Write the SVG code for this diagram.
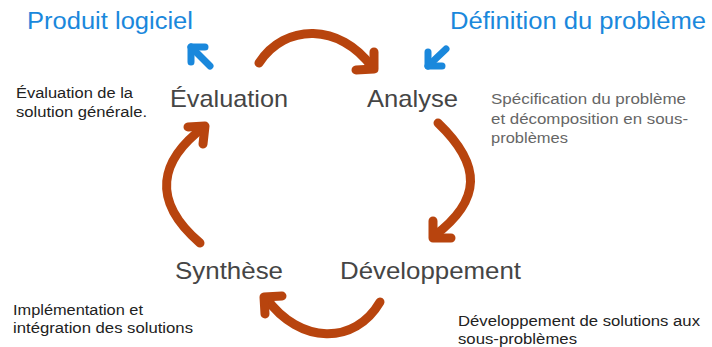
<svg xmlns="http://www.w3.org/2000/svg" width="712" height="347" viewBox="0 0 712 347">
<style>
.title{font-family:"Liberation Sans",Arial,sans-serif;font-size:23px;fill:#1a88dc}
.node{font-family:"Liberation Sans",Arial,sans-serif;font-size:24px;fill:#454545}
.note{font-family:"Liberation Sans",Arial,sans-serif;font-size:15.5px;fill:#222}
.note2{font-family:"Liberation Sans",Arial,sans-serif;font-size:15.5px;fill:#666}
.arc{fill:none;stroke:#b8440e;stroke-width:9;stroke-linecap:round;stroke-linejoin:round}
.blue{fill:none;stroke:#1a88dc;stroke-width:7;stroke-linecap:round;stroke-linejoin:round}
</style>
<rect width="712" height="347" fill="#fff"/>
<g id="titles">
<text class="title" x="27" y="29" textLength="166" lengthAdjust="spacingAndGlyphs">Produit logiciel</text>
<text class="title" x="450" y="29" textLength="256" lengthAdjust="spacingAndGlyphs">Définition du problème</text>
</g>
<g id="evaluation">
<text class="node" x="170" y="107" textLength="118" lengthAdjust="spacingAndGlyphs">Évaluation</text>
<text class="note" x="16" y="98" textLength="117" lengthAdjust="spacingAndGlyphs">Évaluation de la</text>
<text class="note" x="16" y="117" textLength="131" lengthAdjust="spacingAndGlyphs">solution générale.</text>
</g>
<g id="analyse">
<text class="node" x="367" y="107" textLength="91" lengthAdjust="spacingAndGlyphs">Analyse</text>
<text class="note2" x="491" y="104" textLength="195" lengthAdjust="spacingAndGlyphs">Spécification du problème</text>
<text class="note2" x="491" y="124" textLength="197" lengthAdjust="spacingAndGlyphs">et décomposition en sous-</text>
<text class="note2" x="491" y="143" textLength="77" lengthAdjust="spacingAndGlyphs">problèmes</text>
</g>
<g id="developpement">
<text class="node" x="340" y="279" textLength="181" lengthAdjust="spacingAndGlyphs">Développement</text>
<text class="note" x="458" y="326" textLength="242" lengthAdjust="spacingAndGlyphs">Développement de solutions aux</text>
<text class="note" x="458" y="344" textLength="119" lengthAdjust="spacingAndGlyphs">sous-problèmes</text>
</g>
<g id="synthese">
<text class="node" x="175" y="279" textLength="108" lengthAdjust="spacingAndGlyphs">Synthèse</text>
<text class="note" x="13" y="315" textLength="130" lengthAdjust="spacingAndGlyphs">Implémentation et</text>
<text class="note" x="13" y="333" textLength="180" lengthAdjust="spacingAndGlyphs">intégration des solutions</text>
</g>
<g id="connectors">
<path class="arc" d="M259,63 C285,23 340,23 372,67"/>
<path class="arc" d="M356,70 L374,69 L374,52"/>
<path class="arc" d="M438,123 C482,165 482,200 434,236"/>
<path class="arc" d="M433,221 L433,238 L451,238"/>
<path class="arc" d="M380,302 C355,345 300,345 266,298"/>
<path class="arc" d="M265,314 L264,297 L282,296"/>
<path class="arc" d="M200,243 C150,200 160,160 204,127"/>
<path class="arc" d="M188,127 L205,126 L203,144"/>
<path class="blue" d="M210,66 L191,47"/>
<path class="blue" d="M191,62 L191,47 L205,47"/>
<path class="blue" d="M446,49 L428,66"/>
<path class="blue" d="M428,52 L428,66 L442,66"/>
</g>
</svg>
